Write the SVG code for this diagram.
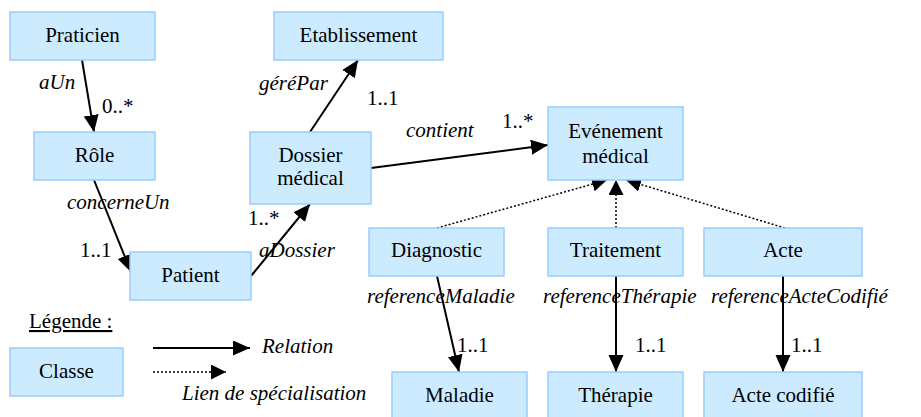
<svg xmlns="http://www.w3.org/2000/svg" width="921" height="417" viewBox="0 0 921 417" font-family="'Liberation Serif', 'Times New Roman', serif" font-size="21">
<defs>
<style>
.n rect{fill:#CCEBFF;stroke:#99CCFF;stroke-width:1.5}
.c{text-anchor:middle}
.i{font-style:italic}
.rel{stroke:#000;stroke-width:2;fill:none;marker-end:url(#ah)}
.spec{stroke:#000;stroke-width:1.5;stroke-dasharray:2,2;fill:none;marker-end:url(#ah2)}
</style>
<marker id="ah" markerUnits="userSpaceOnUse" markerWidth="18" markerHeight="16" refX="17" refY="7.5" orient="auto">
<path d="M0,0 L17,7.5 L0,15 z" fill="#000"/>
</marker>
<marker id="ah2" markerUnits="userSpaceOnUse" markerWidth="16" markerHeight="16" refX="15" refY="7.5" orient="auto">
<path d="M0,0 L15,7.5 L0,15 z" fill="#000"/>
</marker>
</defs>
<rect width="921" height="417" fill="#fff"/>

<g id="connectors">
<line class="rel" x1="82" y1="60" x2="94" y2="132"/>
<line class="rel" x1="94" y1="180" x2="131" y2="272"/>
<line class="rel" x1="251" y1="276" x2="310" y2="204"/>
<line class="rel" x1="310" y1="132" x2="358" y2="60"/>
<line class="rel" x1="371" y1="168" x2="548" y2="145"/>
<line class="spec" x1="437" y1="228" x2="607" y2="180"/>
<line class="spec" x1="616" y1="228" x2="616" y2="180"/>
<line class="spec" x1="785" y1="228" x2="626" y2="180"/>
<line class="rel" x1="437" y1="276" x2="459" y2="372"/>
<line class="rel" x1="616" y1="276" x2="616" y2="372"/>
<line class="rel" x1="783" y1="276" x2="783" y2="372"/>
<line class="rel" x1="153" y1="348" x2="250" y2="348"/>
<line class="spec" x1="153" y1="372" x2="226" y2="372"/>
</g>

<g id="labels" fill="#000">
<text class="i" x="39" y="89">aUn</text>
<text x="102" y="113">0..*</text>
<text class="i" x="259" y="90">géréPar</text>
<text x="367" y="105">1..1</text>
<text class="i" x="406" y="137">contient</text>
<text x="502" y="128">1..*</text>
<text class="i" x="67" y="209">concerneUn</text>
<text x="80" y="257">1..1</text>
<text x="248" y="225">1..*</text>
<text class="i" x="259" y="257">aDossier</text>
<text class="i" x="367" y="303">referenceMaladie</text>
<text class="i" x="543" y="303">referenceThérapie</text>
<text class="i" x="711" y="303">referenceActeCodifié</text>
<text x="457" y="352">1..1</text>
<text x="635" y="352">1..1</text>
<text x="791" y="352">1..1</text>
</g>

<g id="praticien" class="n"><rect x="10" y="12" width="145" height="48"/><text class="c" x="82.5" y="42">Praticien</text></g>
<g id="etablissement" class="n"><rect x="274" y="12" width="169" height="48"/><text class="c" x="358.5" y="42">Etablissement</text></g>
<g id="role" class="n"><rect x="34" y="132" width="121" height="48"/><text class="c" x="94.5" y="162">Rôle</text></g>
<g id="dossier" class="n"><rect x="250" y="132" width="121" height="72"/><text class="c" x="310.5" y="162">Dossier</text><text class="c" x="310.5" y="185">médical</text></g>
<g id="evenement" class="n"><rect x="548" y="107" width="135" height="73"/><text class="c" x="615.5" y="138">Evénement</text><text class="c" x="615.5" y="163">médical</text></g>
<g id="patient" class="n"><rect x="130" y="252" width="121" height="48"/><text class="c" x="190.5" y="282">Patient</text></g>
<g id="diagnostic" class="n"><rect x="369" y="228" width="135" height="48"/><text class="c" x="436.5" y="257">Diagnostic</text></g>
<g id="traitement" class="n"><rect x="548" y="228" width="135" height="48"/><text class="c" x="615.5" y="257">Traitement</text></g>
<g id="acte" class="n"><rect x="704" y="228" width="158" height="48"/><text class="c" x="783" y="257">Acte</text></g>
<g id="maladie" class="n"><rect x="392" y="372" width="135" height="48"/><text class="c" x="459.5" y="402">Maladie</text></g>
<g id="therapie" class="n"><rect x="548" y="372" width="135" height="48"/><text class="c" x="615.5" y="402">Thérapie</text></g>
<g id="actecodifie" class="n"><rect x="704" y="372" width="158" height="48"/><text class="c" x="783" y="402">Acte codifié</text></g>

<g id="legende">
<text x="29" y="328" text-decoration="underline">Légende :</text>
<g id="classe" class="n"><rect x="10" y="348" width="113" height="48"/><text class="c" x="66.5" y="378">Classe</text></g>
<text class="i" x="262" y="353">Relation</text>
<text class="i" x="182" y="400">Lien de spécialisation</text>
</g>
</svg>
